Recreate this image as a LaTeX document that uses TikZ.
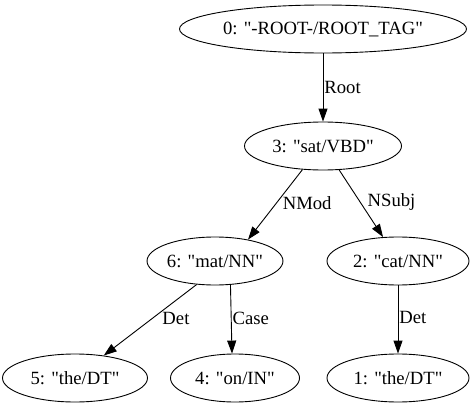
\documentclass[tikz,border=0pt]{standalone}
\usepackage{fontspec}
\newfontfamily\gvfont{Liberation Serif}
\usepackage{tikz}
\usetikzlibrary{positioning,arrows.meta,shapes.geometric}
\tikzset{
  tok/.style={draw, ellipse, line width=0.9pt, inner sep=0pt, minimum height=48pt, font=\gvfont\fontsize{18.67}{22}\selectfont},
  dep/.style={-{Triangle[length=13pt, width=9pt]}, line width=0.9pt},
  rel/.style={anchor=west, inner sep=1pt, font=\gvfont\fontsize{18.67}{22}\selectfont},
}
\begin{document}
\begin{tikzpicture}[x=1pt, y=-1pt]
    \useasboundingbox (0,0) rectangle (475,407);
    \node[tok, minimum width=287pt] (n0) at (323,29) {0: "-ROOT-/ROOT\_TAG"};
    \node[tok, minimum width=157pt] (n3) at (323,146) {3: "sat/VBD"};
    \node[tok, minimum width=128pt] (n6) at (215,261) {6: "mat/NN"};
    \node[tok, minimum width=142pt] (n2) at (398,261) {2: "cat/NN"};
    \node[tok, minimum width=145pt] (n5) at (75,378) {5: "the/DT"};
    \node[tok, minimum width=129pt] (n4) at (235,378) {4: "on/IN"};
    \node[tok, minimum width=142pt] (n1) at (398,378) {1: "the/DT"};
    \draw[dep] (n0) -- node[rel, pos=0.5] {Root} (n3);
    \draw[dep] (n3.229) -- node[rel, pos=0.48, xshift=5pt] {NMod} (n6.33);
    \draw[dep] (n3.304) -- node[rel, pos=0.48, xshift=6pt] {NSubj} (n2.122);
    \draw[dep] (n6.232) -- node[rel, pos=0.48, xshift=9pt] {Det} (n5.38);
    \draw[dep] (n6.303) -- node[rel, pos=0.49] {Case} (n4.97);
    \draw[dep] (n2) -- node[rel, pos=0.47] {Det} (n1);
\end{tikzpicture}
\end{document}
